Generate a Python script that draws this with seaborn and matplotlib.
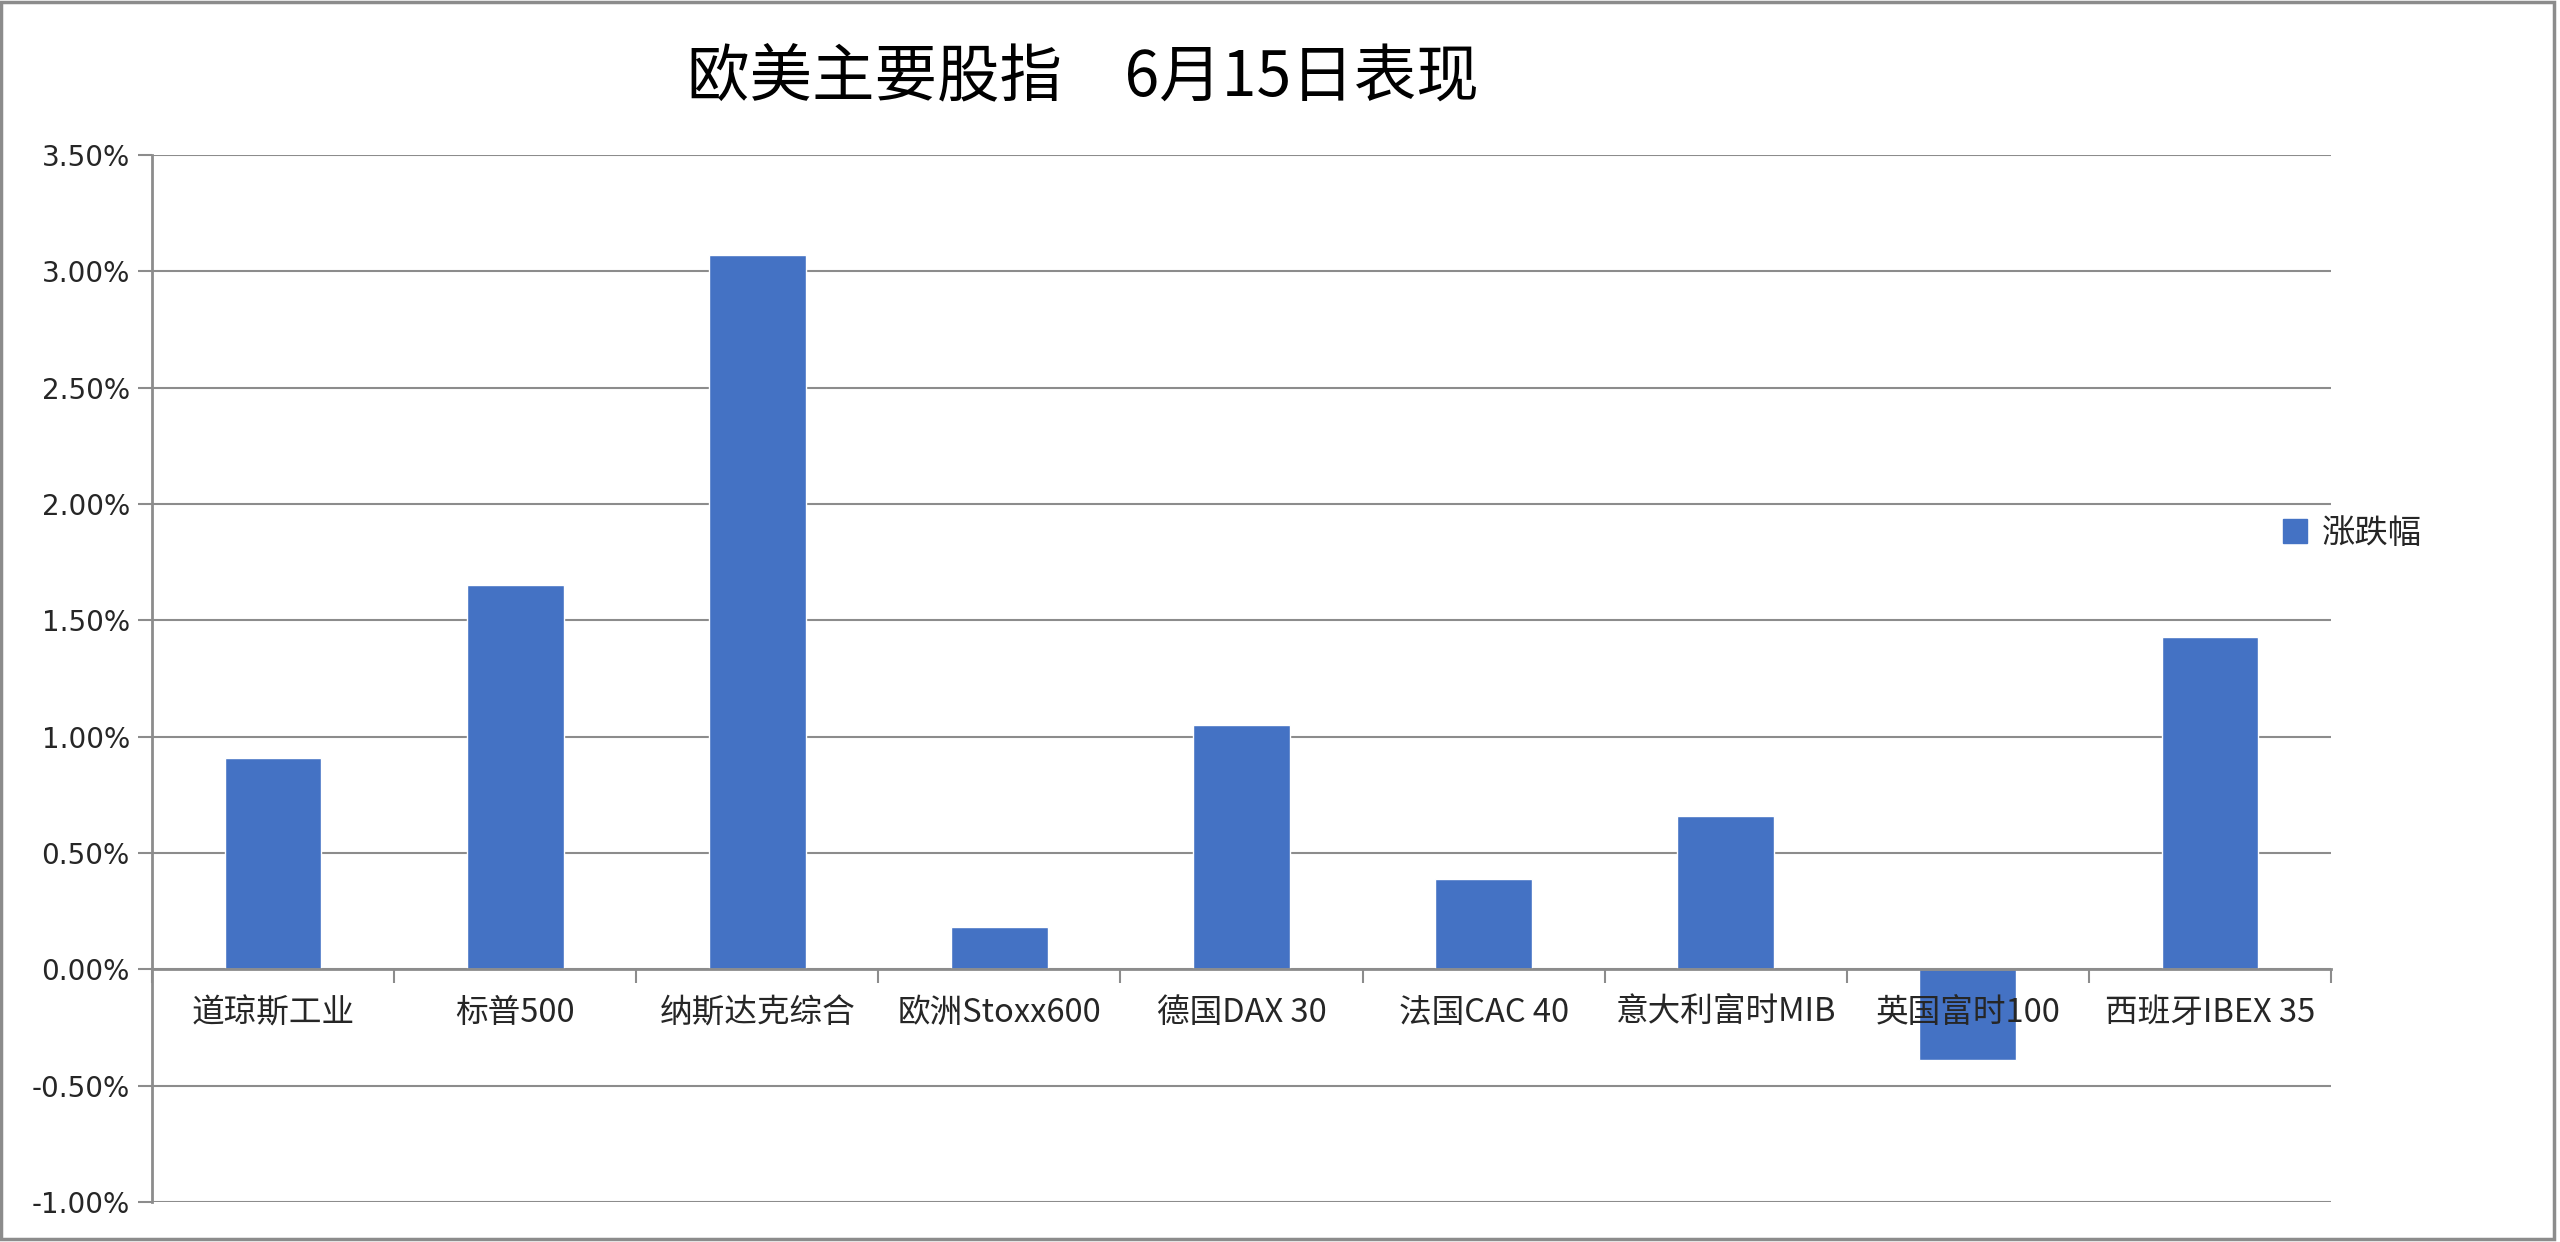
import matplotlib
matplotlib.use("Agg")
import matplotlib.pyplot as plt
import matplotlib.ticker as mticker
from matplotlib.lines import Line2D
from matplotlib.patches import Rectangle
import seaborn as sns
import numpy as np

categories = ["道琼斯工业", "标普500", "纳斯达克综合", "欧洲Stoxx600", "德国DAX 30",
              "法国CAC 40", "意大利富时MIB", "英国富时100", "西班牙IBEX 35"]
values = [0.91, 1.65, 3.07, 0.18, 1.05, 0.39, 0.66, -0.39, 1.43]
y_ticks = [-1.0, -0.5, 0.0, 0.5, 1.0, 1.5, 2.0, 2.5, 3.0, 3.5]
series_name = "涨跌幅"
title = "欧美主要股指　6月15日表现"

sns.set_style("white")
plt.rcParams['font.family'] = ['Noto Sans CJK SC', 'DejaVu Sans']

BAR = "#4472C4"
GRID = "#8c8c8c"

fig = plt.figure(figsize=(25.6, 12.42), dpi=100)
ax = fig.add_axes([152/2560, 40/1242, (2331-152)/2560, (1202-155)/1242])

sns.barplot(x=categories, y=values, color=BAR, width=0.4, ax=ax, saturation=1,
            zorder=1)

ax.set_xlim(-0.5, len(categories) - 0.5)
ax.set_ylim(-1.0, 3.5)
ax.set_yticks(y_ticks)
ax.yaxis.set_major_formatter(mticker.FuncFormatter(lambda v, p: f"{v:.2f}%"))
for lab in ax.get_yticklabels():
    lab.set_fontfamily('DejaVu Sans')
ax.tick_params(axis='y', which='major', length=10, width=1.5, color=GRID,
               labelsize=20, pad=6, direction='out', left=True)

# gridlines drawn beneath bars; axis (labels, spines) above bars
ax.grid(False)
for t in y_ticks:
    ax.axhline(t, color=GRID, linewidth=1.5, zorder=0.3)
ax.set_axisbelow(False)

# x axis at zero, ticks at category boundaries, labels at centres
ax.spines['bottom'].set_position(('data', 0))
ax.spines['bottom'].set_color(GRID)
ax.spines['bottom'].set_linewidth(2)
ax.spines['left'].set_color(GRID)
ax.spines['left'].set_linewidth(2)
ax.spines['top'].set_visible(False)
ax.spines['right'].set_visible(False)

n = len(categories)
ax.set_xticks(np.arange(-0.5, n, 1.0))
ax.set_xticklabels([])
ax.set_xticks(np.arange(n), minor=True)
ax.set_xticklabels(categories, minor=True)
ax.tick_params(axis='x', which='major', length=10, width=1.5, color=GRID,
               direction='out', bottom=True)
ax.tick_params(axis='x', which='minor', length=0, labelsize=23.5, pad=20)
ax.set_xlabel("")
ax.set_ylabel("")

# legend
handle = Line2D([], [], marker='s', linestyle='none', markersize=17,
                markerfacecolor=BAR, markeredgecolor=BAR)
fig.legend([handle], [series_name], loc='center left',
           bbox_to_anchor=(2262/2560, 1 - 533/1242), frameon=False,
           fontsize=24, handletextpad=0.3, borderpad=0, handlelength=1.0)

fig.text(1083/2560, 1 - 77/1242, title, ha='center', va='center', fontsize=45,
         color='black')

fig.patches.append(Rectangle((1/2560, 3/1242), 2553/2560, 1237/1242,
                             transform=fig.transFigure, fill=False,
                             edgecolor=GRID, linewidth=2.5))

fig.savefig("out.png", dpi=100)
